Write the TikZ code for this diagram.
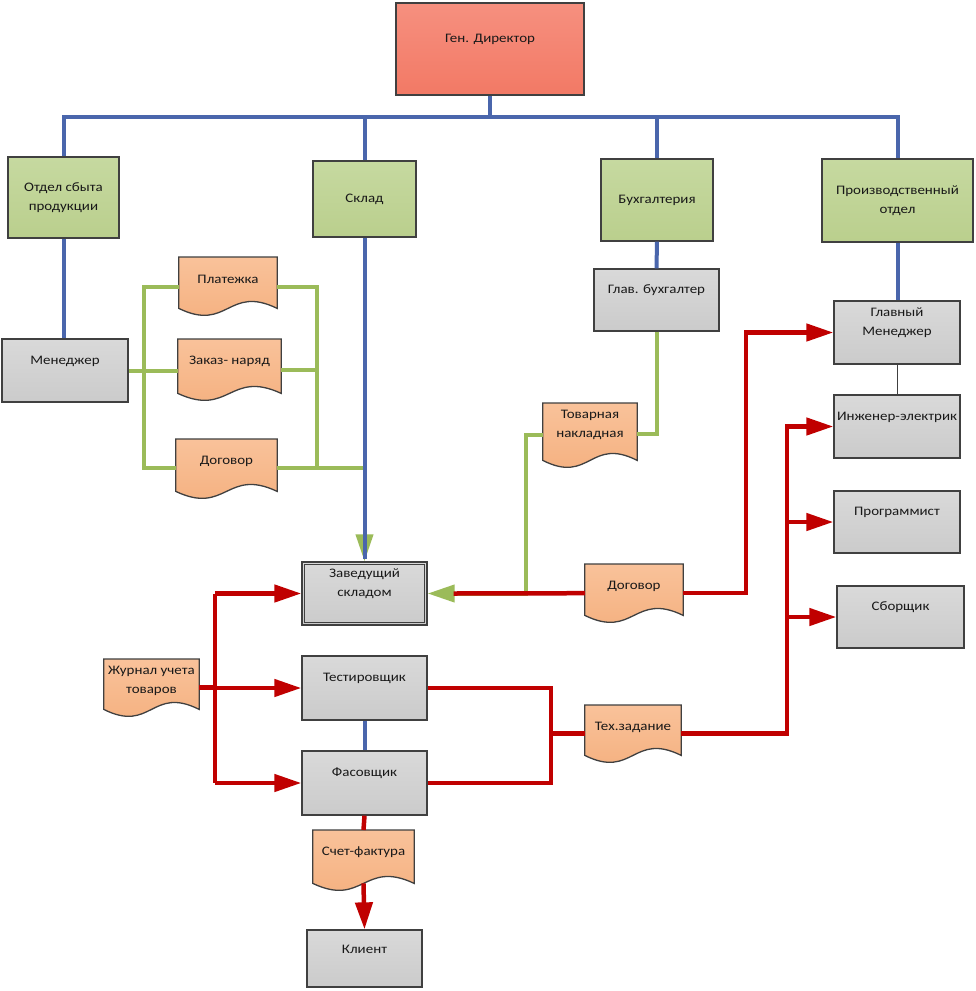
\documentclass[tikz,border=0pt]{standalone}
\usepackage{fontspec}
\setmainfont{Carlito}[FakeStretch=1.15]
\usetikzlibrary{arrows.meta,calc}
\definecolor{bl}{HTML}{4A66AC}
\definecolor{gr}{HTML}{9BBB59}
\definecolor{rd}{HTML}{C00000}
\definecolor{bord}{HTML}{404040}
\definecolor{grayf}{HTML}{D9D9D9}
\definecolor{grayf2}{HTML}{CBCBCB}
\definecolor{greenf}{HTML}{C6D9A0}
\definecolor{greenf2}{HTML}{BACF8D}
\definecolor{orf}{HTML}{F9C29A}
\definecolor{orf2}{HTML}{F4AE7C}
\definecolor{redf}{HTML}{F6907F}
\definecolor{redf2}{HTML}{F27965}
\tikzset{
  base/.style={draw=bord, line width=1.3pt, inner sep=0pt},
  graybox/.style={base, top color=grayf, bottom color=grayf2},
  greenbox/.style={base, top color=greenf, bottom color=greenf2, align=center,
    text=black!90, font=\fontsize{13}{19}\selectfont},
  redbox/.style={base, top color=redf, bottom color=redf2},
  docbox/.style={inner sep=0pt, draw=none},
  docshape/.style={draw=bord, line width=1.3pt, top color=orf, bottom color=orf2},
  lbl/.style={align=center, inner sep=0pt, text=black!90, font=\fontsize{13}{19}\selectfont},
  blu/.style={draw=bl, line width=4pt},
  grn/.style={draw=gr, line width=4pt},
  redline/.style={draw=rd, line width=4.5pt},
  rarrow/.style={-{Triangle[length=27pt,width=17pt]}},
  garrow/.style={-{Triangle[length=27pt,width=17pt]}},
}
\newcommand\gbox[6]{%
  \node[graybox, minimum width=#4pt, minimum height=#5pt] (#1) at (#2,#3) {};
  \node[lbl] (#1-t) at ([yshift=9.5pt]#1.center) {#6};}
\newcommand\docnode[6]{%
  \node[docbox, minimum width=#4pt, minimum height=#5pt, anchor=north] (#1) at (#2,#3) {};
  \path[docshape] (#1.north west) -- (#1.north east) -- ([yshift=7pt]#1.south east)
    .. controls ([yshift=31pt]#1.south) and ([yshift=-17pt]#1.south) .. ([yshift=7pt]#1.south west) -- cycle;
  \node[lbl] (#1-t) at ([yshift=-22pt]#1.north) {#6};}
\begin{document}
\begin{tikzpicture}[x=1pt,y=1pt]
\fill[white] (0,0) rectangle (976,-991);
\useasboundingbox (0,0) rectangle (976,-991);

% top
\node[redbox, minimum width=188pt, minimum height=92pt] (gd) at (490,-49) {};
\node[lbl] (gd-t) at ([yshift=10pt]gd.center) {Ген. Директор};

\node[greenbox, minimum width=111pt, minimum height=81pt] (otd) at (63.5,-197.5) {Отдел сбыта\\продукции};
\node[greenbox, minimum width=103pt, minimum height=76pt] (sklad) at (364.5,-199) {Склад};
\node[greenbox, minimum width=112pt, minimum height=82pt] (buh) at (657,-200) {Бухгалтерия};
\node[greenbox, minimum width=151pt, minimum height=83pt] (proiz) at (897.5,-200.5) {Производственный\\отдел};

% gray boxes
\gbox{men}{65}{-370.5}{126}{63}{Менеджер}
\gbox{glb}{656.5}{-300}{125}{62}{Глав. бухгалтер}
\gbox{gm}{897}{-332.5}{126}{63}{Главный\\Менеджер}
\gbox{ing}{897}{-426.5}{126}{63}{Инженер-электрик}
\gbox{prog}{897}{-522}{126}{62}{Программист}
\gbox{sbor}{900.5}{-617}{127}{62}{Сборщик}
\gbox{zav}{364.5}{-593.5}{125}{63}{Заведущий\\складом}
\draw[bord, line width=1pt] ([shift={(3pt,3pt)}]zav.south west) rectangle ([shift={(-3pt,-3pt)}]zav.north east);
\gbox{test}{364.5}{-688}{125}{64}{Тестировщик}
\gbox{fas}{364.5}{-783}{125}{64}{Фасовщик}
\gbox{kli}{364.5}{-958.5}{115}{57}{Клиент}

% documents
\docnode{plat}{228}{-257}{98}{58}{Платежка}
\docnode{zak}{229.5}{-339}{103}{61}{Заказ- наряд}
\docnode{dogA}{226.5}{-439}{101}{59}{Договор}
\docnode{tov}{590}{-403}{94}{64}{Товарная\\накладная}
\docnode{dogB}{634}{-564}{98}{58}{Договор}
\docnode{zhur}{151.5}{-659}{95}{57}{Журнал учета\\товаров}
\docnode{tex}{633}{-705}{96}{57}{Тех.задание}
\docnode{sch}{363.5}{-830}{101}{60}{Счет-фактура}

% coordinates
\coordinate (bus) at (490,-117);
\coordinate (gl) at (144,0);
\coordinate (gr) at (317,0);
\coordinate (gv) at (526,0);
\coordinate (lv) at (215,0);
\coordinate (mv) at (551,0);
\coordinate (dv) at (746,0);
\coordinate (rv) at (787,0);
\coordinate (pL) at ([yshift=-30pt]plat.north west);
\coordinate (pR) at ([yshift=-30pt]plat.north east);
\coordinate (dL) at ([yshift=-29pt]dogA.north west);
\coordinate (dR) at ([yshift=-29pt]dogA.north east);
\coordinate (zR) at ([yshift=-31pt]zak.north east);
\coordinate (tR) at ([yshift=-31pt]tov.north east);
\coordinate (tL) at ([yshift=-32pt]tov.north west);

% green connectors
\draw[grn] (pL) -- (pL -| gl) -- (dL -| gl) -- (dL);
\draw[grn] (men.east) -- (men.east -| zak.west);
\draw[grn] (pR) -- (pR -| gr) -- (dR -| gr);
\draw[grn] (zR) -- (zR -| gr);
\draw[grn, garrow, color=gr] (dR) -- (dR -| zav.north) -- (zav.north);
\draw[grn] (glb.south) |- (tR);
\draw[grn, garrow, color=gr] (tL) -- (tL -| gv) -- (zav.east -| gv) -- (zav.east);

% blue connectors
\draw[blu] (gd.south) -- (bus);
\draw[blu] (otd.north) -- (otd.north |- bus) -- (proiz.north |- bus) -- (proiz.north);
\draw[blu] (sklad.north) -- (sklad.north |- bus);
\draw[blu] (buh.north) -- (buh.north |- bus);
\draw[blu] (otd.south) -- (otd.south |- men.north);
\draw[blu] (sklad.south) -- ([yshift=2pt]zav.north);
\draw[blu] (buh.south) -- (glb.north);
\draw[blu] (proiz.south) -- (proiz.south |- gm.north);
\draw[blu] (test.south) -- (fas.north);
\draw[bord, line width=1pt] (gm.south) -- (ing.north);

% red connectors
\draw[redline] (dogB.west) -- ([xshift=26pt]zav.east);
\draw[redline, rarrow, color=rd] (dogB.east) -- (dogB.east -| dv) |- (gm.west);
\draw[redline, rarrow, color=rd] (tex.east) -- (tex.east -| rv) |- (ing.west);
\draw[redline, rarrow, color=rd] (prog.west -| rv) -- (prog.west);
\draw[redline, rarrow, color=rd] (sbor.west -| rv) -- (sbor.west);
\draw[redline] (test.east) -- (test.east -| mv) -- (fas.east -| mv) -- (fas.east);
\draw[redline] (tex.west -| mv) -- (tex.west);
\draw[redline] (zhur.east) -- (zhur.east -| lv);
\draw[redline] (zav.west -| lv) -- (fas.west -| lv);
\draw[redline, rarrow, color=rd] (zav.west -| lv) -- (zav.west);
\draw[redline, rarrow, color=rd] (test.west -| lv) -- (test.west);
\draw[redline, rarrow, color=rd] (fas.west -| lv) -- (fas.west);
\draw[redline] (fas.south) -- (sch.north);
\draw[redline, rarrow, color=rd] ([yshift=7pt]sch.south) -- (kli.north);
\end{tikzpicture}
\end{document}
